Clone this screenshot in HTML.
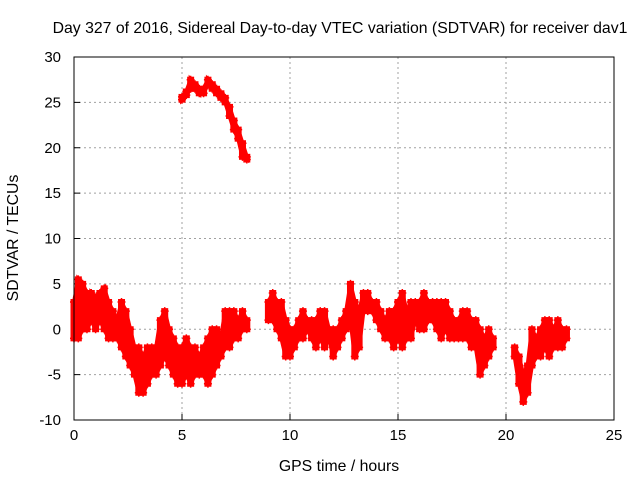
<!DOCTYPE html>
<html><head><meta charset="utf-8"><style>
body{margin:0;background:#fff;width:640px;height:480px;overflow:hidden;font-family:"Liberation Sans",sans-serif}
svg text{font-family:"Liberation Sans",sans-serif;font-size:15px;fill:#000}
svg text.big{font-size:15.8px}
</style></head><body>
<svg id="chart" width="640" height="480" xmlns="http://www.w3.org/2000/svg"></svg>
<script>
const xTicks=[0,5,10,15,20,25];
const yTicks=[-10,-5,0,5,10,15,20,25,30];
const times=[0,0.2,0.4,0.6,0.8,1.0,1.2,1.4,1.6,1.8,2.0,2.2,2.4,2.6,2.8,3.0,3.2,3.4,3.6,3.8,4.0,4.2,4.4,4.6,4.8,5.0,5.2,5.4,5.6,5.8,6.0,6.2,6.4,6.6,6.8,7.0,7.2,7.4,7.6,7.8,8.0,
9.0,9.2,9.4,9.6,9.8,10.0,10.2,10.4,10.6,10.8,11.0,11.2,11.4,11.6,11.8,12.0,12.2,12.4,12.6,12.8,13.0,13.2,13.4,13.6,13.8,14.0,14.2,14.4,14.6,14.8,15.0,15.2,15.4,15.6,15.8,16.0,16.2,16.4,16.6,16.8,17.0,17.2,17.4,17.6,17.8,18.0,18.2,18.4,18.6,18.8,19.0,19.2,19.4,
20.4,20.6,20.8,21.0,21.2,21.4,21.6,21.8,22.0,22.2,22.4,22.6,22.8];
const lows=[-1,-1,0,0,1,0,1,0,-1,-1,-1,-2,-3,-4,-5,-7,-7,-6,-5,-5,-4,-3,-4,-5,-6,-6,-5,-6,-5,-5,-5,-6,-5,-4,-3,-2,-2,-1,-1,0,0,
1,1,0,-1,-3,-3,-2,-1,-1,0,-1,-2,-1,-2,-1,-3,-2,-1,0,1,-3,-2,2,2,2,1,0,-1,-1,-2,-1,-2,-1,-1,1,0,0,1,1,0,-1,0,-1,-1,-1,-1,-1,-2,-2,-5,-4,-3,-2,
-3,-6,-8,-7,-4,-3,-3,-2,-3,-2,-2,-2,-1];
const highs=[3,5.5,5,4,4,3.5,4,4.5,3,2,1,3,2,0,-2,-2,-3,-2,-2,-2,1,2,0,-1,-2,-2,-1,-2,-2,-3,-2,-1,0,0,-1,2,2,2,1,2,1,
3,4,3,3,1,0,0,1,2,1,1,1,2,2,0,0,0,1,2,5,3,2,4,4,3,3,2,1,2,2,3,4,2,3,3,3,4,3,3,3,3,3,2,1,1,2,2,1,1,0,-1,0,-1,
-2,-3,-5,-4,0,-1,0,1,1,0,1,0,0];
const upTimes=[5.0,5.2,5.4,5.6,5.8,6.0,6.2,6.4,6.6,6.8,7.0,7.2,7.4,7.6,7.8,8.0];
const upLows=[25.3,25.8,26.5,26.5,26,26,27,26.5,26,25.5,25,23.5,22,21,19,18.7];
const upHighs=[25.6,26.2,27.5,27,26.5,26.5,27.5,27,26.5,26,25.5,24.5,23,22,20.5,19];

const svg=document.getElementById('chart');const NS='http://www.w3.org/2000/svg';
const L=74,R=614,T=57,B=420;
const xs=v=>L+(v-0)/25*(R-L);const ys=v=>B-(v+10)/40*(B-T);
function el(tag,attrs,parent){const e=document.createElementNS(NS,tag);for(const k in attrs)e.setAttribute(k,attrs[k]);(parent||svg).appendChild(e);return e;}
const grid=el('g',{});


xTicks.forEach(t=>{
 if(t>0&&t<25){const g=el('line',{x1:xs(t),x2:xs(t),y1:T,y2:B,stroke:'#a0a0a0','stroke-dasharray':'2,3'},grid);
 
 }
 const tk=el('line',{x1:xs(t),x2:xs(t),y1:B,y2:B-6,stroke:'#000'});
 
 
 const tx=el('text',{x:xs(t),y:B+20,'text-anchor':'middle'});tx.textContent=t;
 
 
});
yTicks.forEach(t=>{
 if(t>-10&&t<30){const g=el('line',{x1:L,x2:R,y1:ys(t),y2:ys(t),stroke:'#a0a0a0','stroke-dasharray':'2,3'},grid);
 
 }
 const tk=el('line',{x1:L,x2:L+6,y1:ys(t),y2:ys(t),stroke:'#000'});
 
 
 const tx=el('text',{x:L-13,y:ys(t)+5,'text-anchor':'end'});tx.textContent=t;
 
 
});
const series=el('g',{fill:'none',stroke:'#f00'});


function drawBand(ts,lo,hi){
 for(let i=0;i<ts.length;i++){
  const x=xs(ts[i]);
  const b=el('line',{x1:x,x2:x,y1:ys(lo[i])+3,y2:ys(hi[i])-3,'stroke-width':7},series);
  
  
  if(i>0&&ts[i]-ts[i-1]<0.3){
   const p=el('polygon',{points:`${xs(ts[i-1])},${ys(hi[i-1])} ${x},${ys(hi[i])} ${x},${ys(lo[i])} ${xs(ts[i-1])},${ys(lo[i-1])}`,fill:'#f00',stroke:'#f00','stroke-width':4},series);
   
   
  }
  [lo[i],hi[i]].forEach(v=>{
   const m=el('path',{d:`M${x-4},${ys(v)}h8M${x},${ys(v)-4}v8`,'stroke-width':1.5},series);
   
   
  });
 }
}
drawBand(times,lows,highs);
drawBand(upTimes,upLows,upHighs);
const frame=el('rect',{x:L,y:T,width:R-L,height:B-T,fill:'none',stroke:'#000'});


const title=el('text',{x:340,y:33,'text-anchor':'middle','class':'big'});title.textContent='Day 327 of 2016, Sidereal Day-to-day VTEC variation (SDTVAR) for receiver dav1';


const xl=el('text',{x:339,y:471,'text-anchor':'middle','class':'big'});xl.textContent='GPS time / hours';


const yl=el('text',{x:0,y:0,'text-anchor':'middle','class':'big',transform:'translate(18,238) rotate(-90)'});yl.textContent='SDTVAR / TECUs';


</script>
</body></html>
